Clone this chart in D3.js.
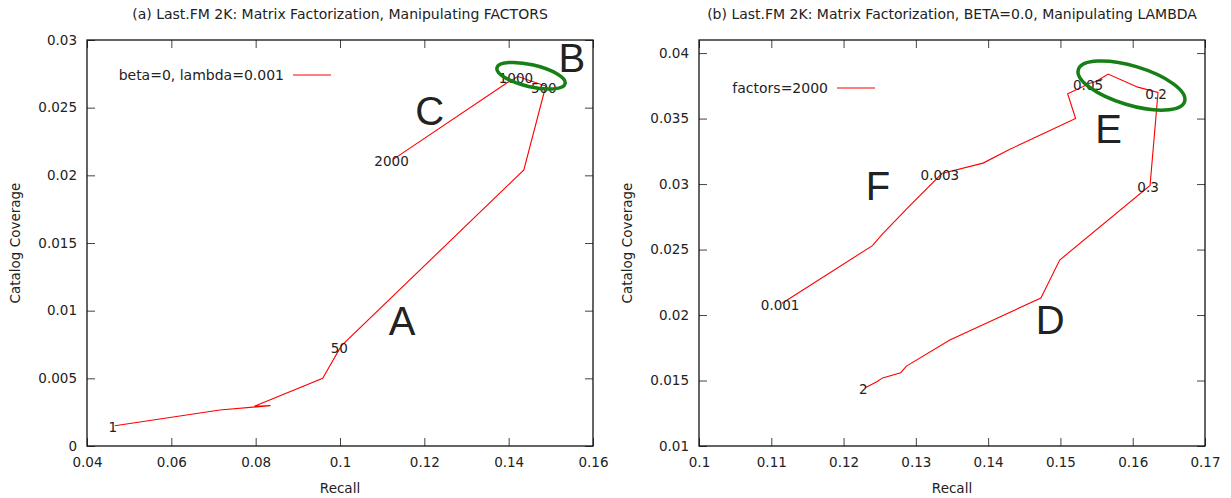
<!DOCTYPE html>
<html>
<head>
<meta charset="utf-8">
<script src="https://cdn.jsdelivr.net/npm/d3@7"></script>
<style>
  body { margin: 0; background: #fff; }
  svg { display: block; }
  text { font-family: "DejaVu Sans", Verdana, sans-serif; fill: #222; }
</style>
</head>
<body>
<script>
// (a) manipulating factors, beta=0 lambda=0.001
var factorsRecall   = [0.0466, 0.0715, 0.0835, 0.0797, 0.0959, 0.1003, 0.1436, 0.1488, 0.1422, 0.1399, 0.1127];
var factorsCoverage = [0.0015, 0.00266, 0.00298, 0.00293, 0.0050, 0.0074, 0.0204, 0.0266, 0.0273, 0.0269, 0.0212];
var factorsLabels   = ["1", "", "", "", "", "50", "", "500", "1000", "", "2000"];

// (b) manipulating lambda, factors=2000
var lambdaRecall   = [0.1115, 0.1240, 0.1254, 0.1289, 0.1336, 0.1393, 0.1428, 0.1521, 0.1510, 0.1541, 0.1558, 0.1548,
                      0.1566, 0.1607, 0.1635, 0.1624, 0.1499, 0.1473, 0.1347, 0.1287, 0.1279, 0.1254, 0.1246, 0.1230];
var lambdaCoverage = [0.0209, 0.0253, 0.0262, 0.0282, 0.0308, 0.0316, 0.0326, 0.0350, 0.0369, 0.0377, 0.0380, 0.0378,
                      0.0384, 0.0374, 0.0370, 0.0299, 0.0242, 0.0213, 0.0181, 0.0161, 0.0156, 0.0152, 0.0149, 0.01445];
var lambdaLabels   = ["0.001", "", "", "", "0.003", "", "", "", "", "0.05", "", "",
                      "", "", "0.2", "0.3", "", "", "", "", "", "", "", "2"];

var xTicksA = [0.04, 0.06, 0.08, 0.1, 0.12, 0.14, 0.16];
var yTicksA = [0, 0.005, 0.01, 0.015, 0.02, 0.025, 0.03];
var xTicksB = [0.1, 0.11, 0.12, 0.13, 0.14, 0.15, 0.16, 0.17];
var yTicksB = [0.01, 0.015, 0.02, 0.025, 0.03, 0.035, 0.04];

// big letters and ellipses, in data units
var lettersA = [["A", 0.1147, 0.0082], ["B", 0.1550, 0.02764], ["C", 0.1213, 0.02372]];
var lettersB = [["D", 0.1486, 0.01855], ["E", 0.15665, 0.03313], ["F", 0.12476, 0.02878]];
var ellipseA = [0.1453, 0.02736];
var ellipseB = [0.15983, 0.03752];

var svg = d3.select('body').append('svg').attr('width', 1231).attr('height', 498);
var fmt = d3.format('~g');

function drawPanel(opt) {
  var x = d3.scaleLinear().domain(opt.xDomain).range([opt.left, opt.right]);
  var y = d3.scaleLinear().domain(opt.yDomain).range([446, 40]);
  var g = svg.append('g');

  g.append('text').attr('x', (opt.left + opt.right) / 2 + opt.titleDx).attr('y', 19)
    .attr('text-anchor', 'middle').style('font-size', '14px').text(opt.title);

  var bottom = g.append('g').attr('transform', 'translate(0,446)')
    .call(d3.axisBottom(x).tickValues(opt.xTicks).tickFormat(fmt).tickSizeInner(-8).tickSizeOuter(0).tickPadding(11));
  var left = g.append('g').attr('transform', 'translate(' + opt.left + ',0)')
    .call(d3.axisLeft(y).tickValues(opt.yTicks).tickFormat(fmt).tickSizeInner(-8).tickSizeOuter(0).tickPadding(10));
  var top = g.append('g').attr('transform', 'translate(0,40)')
    .call(d3.axisTop(x).tickValues(opt.xTicks).tickFormat('').tickSizeInner(-8).tickSizeOuter(0));
  var right = g.append('g').attr('transform', 'translate(' + opt.right + ',0)')
    .call(d3.axisRight(y).tickValues(opt.yTicks).tickFormat('').tickSizeInner(-8).tickSizeOuter(0));
  [bottom, left, top, right].forEach(function(a) {
    a.select('.domain').remove();
    a.selectAll('line').attr('stroke', '#444');
    a.selectAll('text').style('font-size', '13.5px').style('font-family', '"DejaVu Sans", sans-serif').attr('fill', '#222');
  });

  g.append('rect').attr('x', opt.left).attr('y', 40)
    .attr('width', opt.right - opt.left).attr('height', 406)
    .attr('fill', 'none').attr('stroke', '#111').attr('stroke-width', 1.3);

  g.append('text').attr('x', (opt.left + opt.right) / 2).attr('y', 493)
    .attr('text-anchor', 'middle').style('font-size', '13.5px').text('Recall');
  g.append('text').attr('transform', 'translate(' + (opt.left - 67) + ',243) rotate(-90)')
    .attr('text-anchor', 'middle').style('font-size', '13.5px').text('Catalog Coverage');

  // legend
  g.append('text').attr('x', opt.legendX).attr('y', opt.legendY).attr('dy', '0.35em')
    .attr('text-anchor', 'end').style('font-size', '14px').text(opt.legend);
  g.append('line').attr('x1', opt.legendX + 9).attr('x2', opt.legendX + 47)
    .attr('y1', opt.legendY).attr('y2', opt.legendY).attr('stroke', 'red');

  var pts = opt.xs.map(function(v, i) { return [v, opt.ys[i], opt.labels[i]]; });
  var line = d3.line().x(function(d) { return x(d[0]); }).y(function(d) { return y(d[1]); });
  g.append('path').datum(pts).attr('d', line)
    .attr('fill', 'none').attr('stroke', 'red').attr('stroke-width', 1.1);

  g.selectAll('.pl').data(pts.filter(function(d) { return d[2]; })).enter()
    .append('text').attr('class', 'pl')
    .attr('x', function(d) { return x(d[0]) - 2; })
    .attr('y', function(d) { return y(d[1]) + 2; })
    .attr('dy', '0.35em').attr('text-anchor', 'middle')
    .style('font-size', '13.5px').attr('fill', '#111')
    .text(function(d) { return d[2]; });

  g.append('ellipse')
    .attr('transform', 'translate(' + x(opt.ell[0]) + ',' + y(opt.ell[1]) + ') rotate(' + opt.ellR[2] + ')')
    .attr('rx', opt.ellR[0]).attr('ry', opt.ellR[1])
    .attr('fill', 'none').attr('stroke', '#168016').attr('stroke-width', 3.5);

  g.selectAll('.big').data(opt.letters).enter()
    .append('text').attr('class', 'big')
    .attr('x', function(d) { return x(d[1]); })
    .attr('y', function(d) { return y(d[2]); })
    .attr('text-anchor', 'middle')
    .style('font-family', '"Liberation Sans", Arial, sans-serif')
    .style('font-size', '40px').attr('fill', '#000')
    .text(function(d) { return d[0]; });
}

drawPanel({
  left: 87, right: 593, xDomain: [0.04, 0.16], yDomain: [0, 0.03],
  xTicks: xTicksA, yTicks: yTicksA, titleDx: 0,
  title: '(a) Last.FM 2K: Matrix Factorization, Manipulating FACTORS',
  legend: 'beta=0, lambda=0.001', legendX: 284, legendY: 75,
  xs: factorsRecall, ys: factorsCoverage, labels: factorsLabels,
  ell: ellipseA, ellR: [35, 11, 13], letters: lettersA
});

drawPanel({
  left: 699, right: 1205, xDomain: [0.1, 0.17], yDomain: [0.01, 0.041],
  xTicks: xTicksB, yTicks: yTicksB, titleDx: 0,
  title: '(b) Last.FM 2K: Matrix Factorization, BETA=0.0, Manipulating LAMBDA',
  legend: 'factors=2000', legendX: 828, legendY: 88,
  xs: lambdaRecall, ys: lambdaCoverage, labels: lambdaLabels,
  ell: ellipseB, ellR: [55.5, 19.5, 16.7], letters: lettersB
});
</script>
</body>
</html>
